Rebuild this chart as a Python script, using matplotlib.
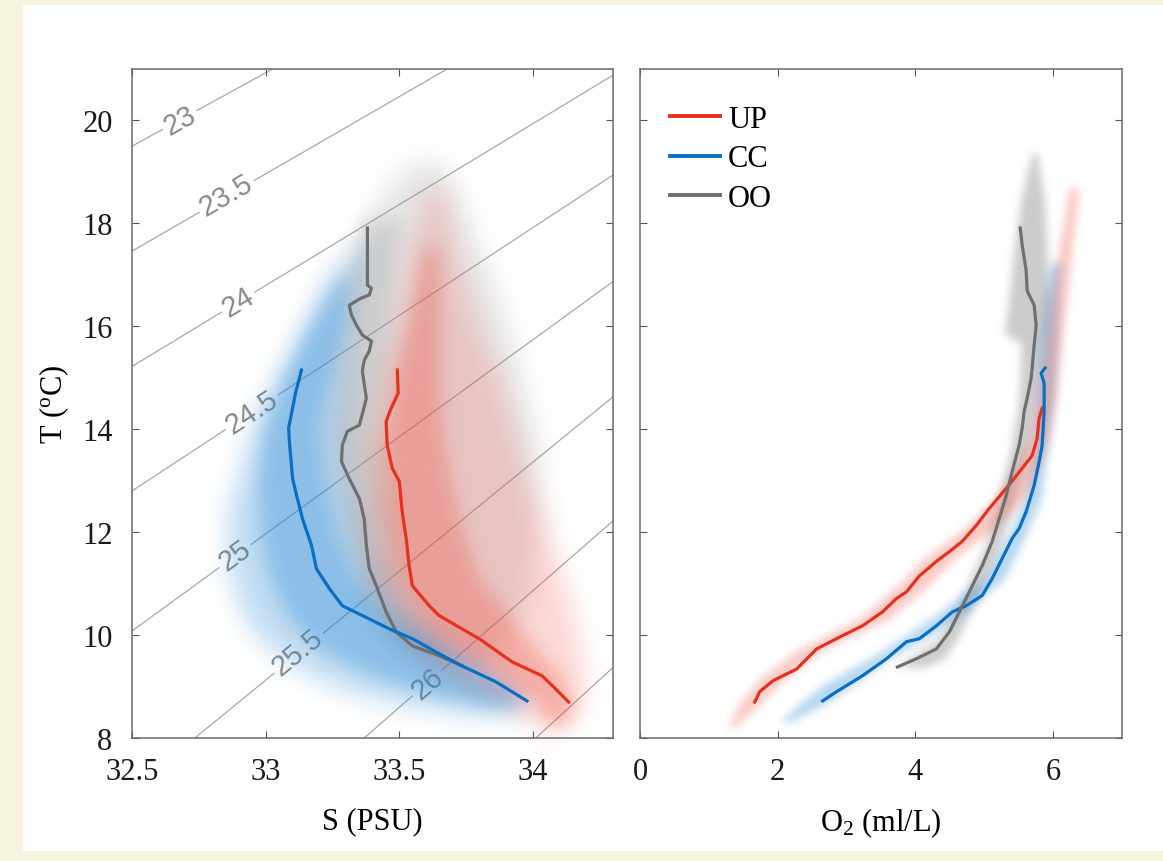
import numpy as np
import matplotlib
matplotlib.use("Agg")
import matplotlib.pyplot as plt
from matplotlib.patches import Rectangle
from matplotlib.lines import Line2D

# isopycnals (sigma-t), end points
iso_s0 = [32.5, 32.5, 32.5, 32.5, 32.5, 32.735, 33.369, 34.011]
iso_t0 = [19.50, 17.46, 15.22, 12.80, 10.08, 8.0, 8.0, 8.0]
iso_s1 = [33.026, 33.679, 34.3, 34.3, 34.3, 34.3, 34.3, 34.3]
iso_t1 = [21.0, 21.0, 20.88, 18.94, 16.87, 14.63, 12.22, 9.37]
iso_txt = ["23", "23.5", "24", "24.5", "25", "25.5", "26", None]
lab_s = [32.679, 32.851, 32.896, 32.948, 32.884, 33.119, 33.604]
lab_t = [20.0, 18.55, 16.48, 14.33, 11.55, 9.68, 9.07]

# mean profiles, T-S
up_s = [33.493, 33.496, 33.470, 33.451, 33.455, 33.474, 33.500, 33.511, 33.526, 33.537,
        33.549, 33.612, 33.649, 33.735, 33.799, 33.922, 34.034, 34.086, 34.134]
up_t = [15.15, 14.70, 14.41, 14.15, 13.69, 13.24, 12.99, 12.40, 11.88, 11.35,
        10.96, 10.57, 10.38, 10.12, 9.93, 9.48, 9.21, 8.95, 8.70]
cc_s = [33.134, 33.127, 33.112, 33.101, 33.086, 33.090, 33.101, 33.116, 33.138, 33.172,
        33.190, 33.239, 33.287, 33.362, 33.463, 33.549, 33.638, 33.735, 33.862, 33.978]
cc_t = [15.15, 15.00, 14.71, 14.41, 14.02, 13.69, 13.04, 12.71, 12.26, 11.74,
        11.29, 10.90, 10.57, 10.38, 10.12, 9.93, 9.67, 9.40, 9.09, 8.72]
oo_s = [33.381, 33.381, 33.396, 33.388, 33.358, 33.313, 33.321, 33.340, 33.362, 33.396,
        33.388, 33.369, 33.362, 33.377, 33.351, 33.306, 33.287, 33.284, 33.313, 33.351,
        33.369, 33.377, 33.388, 33.414, 33.451, 33.489, 33.549, 33.649, 33.735]
oo_t = [17.91, 16.80, 16.74, 16.61, 16.55, 16.41, 16.22, 16.02, 15.83, 15.71,
        15.52, 15.34, 15.13, 14.60, 14.08, 13.96, 13.69, 13.37, 13.04, 12.65,
        12.26, 11.74, 11.29, 10.96, 10.45, 10.06, 9.79, 9.60, 9.40]

# mean profiles, T-O2
up_o = [1.667, 1.739, 1.928, 2.275, 2.565, 2.942, 3.232, 3.522, 3.725, 3.870, 4.058,
        4.304, 4.493, 4.681, 4.884, 5.072, 5.319, 5.551, 5.696, 5.768, 5.797, 5.841]
up_to = [8.70, 8.90, 9.11, 9.34, 9.73, 9.99, 10.18, 10.45, 10.71, 10.84, 11.15,
         11.43, 11.62, 11.82, 12.13, 12.46, 12.85, 13.24, 13.49, 13.82, 14.21, 14.41]
cc_o = [2.652, 2.855, 3.232, 3.580, 3.870, 4.058, 4.304, 4.536, 4.739, 4.971, 5.116,
        5.261, 5.406, 5.507, 5.609, 5.725, 5.797, 5.841, 5.870, 5.870, 5.826, 5.884]
cc_to = [8.72, 8.90, 9.21, 9.54, 9.87, 9.93, 10.18, 10.45, 10.57, 10.77, 11.10,
         11.49, 11.88, 12.07, 12.40, 12.91, 13.37, 13.69, 14.35, 14.89, 15.09, 15.19]
oo_o = [5.522, 5.551, 5.609, 5.623, 5.725, 5.754, 5.725, 5.696, 5.681, 5.623, 5.580,
        5.551, 5.507, 5.406, 5.319, 5.217, 5.116, 4.971, 4.783, 4.638, 4.493, 4.304,
        4.014, 3.739]
oo_to = [17.91, 17.58, 17.08, 16.69, 16.41, 16.02, 15.63, 15.19, 14.99, 14.60, 14.35,
         14.02, 13.69, 13.18, 12.71, 12.26, 11.82, 11.35, 10.84, 10.45, 10.06, 9.73,
         9.54, 9.38]

# spread of the profiles (outer / inner envelopes), T-S
cc_env_t = [17.62, 17.13, 16.35, 15.38, 14.35, 13.37, 12.40, 11.43, 10.57, 9.93, 9.44, 8.95, 8.66, 8.47]
cc_env_l = [33.369, 33.257, 33.172, 33.082, 32.970, 32.914, 32.86, 32.86, 32.90, 32.978, 33.090, 33.276, 33.500, 33.761]
cc_env_r = [33.396, 33.358, 33.321, 33.306, 33.295, 33.299, 33.343, 33.396, 33.500, 33.687, 33.836, 33.948, 33.978, 33.929]
cc_core_t = [16.94, 15.96, 14.99, 14.02, 13.04, 12.07, 11.10, 10.32, 9.73, 9.25, 8.86, 8.60]
cc_core_l = [33.269, 33.157, 33.060, 32.996, 32.970, 32.978, 33.015, 33.090, 33.201, 33.388, 33.612, 33.836]
cc_core_r = [33.313, 33.295, 33.239, 33.201, 33.220, 33.257, 33.332, 33.463, 33.649, 33.836, 33.948, 33.966]

up_env_t = [18.69, 17.52, 16.16, 14.99, 13.63, 12.26, 11.10, 10.12, 9.34, 8.76, 8.37, 8.08]
up_env_l = [33.612, 33.537, 33.493, 33.444, 33.388, 33.381, 33.407, 33.500, 33.649, 33.873, 33.985, 34.041]
up_env_r = [33.668, 33.705, 33.780, 33.873, 33.948, 34.041, 34.116, 34.164, 34.190, 34.190, 34.153, 34.078]
up_core_t = [17.52, 16.16, 14.99, 13.63, 12.26, 11.10, 10.12, 9.34, 8.76, 8.27]
up_core_l = [33.593, 33.537, 33.481, 33.444, 33.463, 33.500, 33.612, 33.836, 34.004, 34.060]
up_core_r = [33.649, 33.649, 33.649, 33.668, 33.724, 33.799, 33.948, 34.078, 34.153, 34.127]

oo_env_t = [19.18, 18.50, 17.52, 16.55, 15.19, 13.63, 12.07, 10.71, 9.93, 9.34]
oo_env_l = [33.537, 33.425, 33.351, 33.295, 33.239, 33.220, 33.257, 33.351, 33.463, 33.649]
oo_env_r = [33.668, 33.724, 33.799, 33.873, 33.948, 34.022, 34.022, 33.985, 33.910, 33.799]
oo_core_t = [18.11, 16.94, 15.58, 14.02, 12.65, 11.29, 10.32, 9.64]
oo_core_l = [33.369, 33.313, 33.295, 33.257, 33.295, 33.351, 33.425, 33.575]
oo_core_r = [33.500, 33.481, 33.463, 33.425, 33.463, 33.500, 33.575, 33.724]

# spread of the profiles, T-O2
up_band_t = [8.21, 8.66, 9.15, 9.73, 10.32, 10.90, 11.49, 12.07, 12.65, 13.24, 13.82, 14.60, 15.58, 16.55, 17.52, 18.69]
up_band_l = [1.275, 1.449, 1.739, 2.319, 3.188, 3.696, 4.130, 4.710, 5.145, 5.435, 5.652, 5.768, 5.870, 5.971, 6.087, 6.232]
up_band_r = [1.377, 1.739, 2.101, 2.681, 3.623, 4.130, 4.565, 5.145, 5.580, 5.797, 5.942, 6.043, 6.116, 6.203, 6.275, 6.377]
cc_band_t = [8.31, 8.66, 9.05, 9.54, 10.03, 10.51, 11.10, 11.88, 12.65, 13.63, 14.60, 15.58, 16.55, 17.23]
cc_band_l = [2.029, 2.319, 2.681, 3.333, 3.913, 4.420, 5.0, 5.333, 5.580, 5.725, 5.768, 5.797, 5.870, 5.971]
cc_band_r = [2.174, 2.681, 3.116, 3.623, 4.275, 4.783, 5.290, 5.580, 5.826, 5.913, 6.014, 6.058, 6.087, 6.116]
oo_band_t = [19.37, 18.50, 17.52, 16.55, 15.87, 15.67, 14.60, 13.63, 12.65, 11.68, 10.71, 9.93, 9.54, 9.38]
oo_band_l = [5.696, 5.536, 5.435, 5.362, 5.290, 5.536, 5.507, 5.391, 5.217, 5.0, 4.667, 4.348, 3.913, 3.739]
oo_band_r = [5.768, 5.870, 5.913, 5.942, 5.913, 5.870, 5.768, 5.652, 5.435, 5.217, 4.899, 4.609, 4.420, 4.130]

RED, BLUE, GREY = "#e5321f", "#0a6fc0", "#6f6f6f"
RED_F, BLUE_F, GREY_F = "#f04a3a", "#2a8ad6", "#9a9a9a"


def soft(sigma):
    # gaussian blur for the shaded clouds (premultiplied so edges dont darken)
    def filt(img, dpi):
        pad = int(3 * sigma)
        a = np.pad(img, ((pad, pad), (pad, pad), (0, 0)))
        k = np.exp(-0.5 * (np.arange(-pad, pad + 1) / sigma) ** 2)
        k /= k.sum()
        al = a[..., 3:].copy()
        pm = np.concatenate([a[..., :3] * al, al], axis=2)
        for axis in (0, 1):
            out = np.zeros_like(pm)
            for i, w in enumerate(k):
                out += w * np.roll(pm, i - pad, axis=axis)
            pm = out
        res = np.empty_like(pm)
        res[..., 3] = pm[..., 3]
        res[..., :3] = pm[..., :3] / np.maximum(pm[..., 3:], 1e-6)
        return np.clip(res, 0, 1), -pad, -pad
    return filt


plt.rcParams["font.family"] = ["Liberation Serif", "DejaVu Serif"]
plt.rcParams["mathtext.fontset"] = "custom"
plt.rcParams["mathtext.rm"] = "Liberation Serif"
plt.rcParams["mathtext.it"] = "Liberation Serif:italic"

fig = plt.figure(figsize=(11.63, 8.62), dpi=100, facecolor="#f6f4de")
fig.patches.append(Rectangle((23 / 1163, 10 / 862), 1, 1 - 16 / 862, transform=fig.transFigure,
                             fc="white", ec="none", zorder=-10))

ax1 = fig.add_axes([0.1135, 0.1427, 0.4136, 0.7761])
ax2 = fig.add_axes([0.5503, 0.1427, 0.4144, 0.7761])

# isopycnals
for i in range(len(iso_s0)):
    ax1.plot([iso_s0[i], iso_s1[i]], [iso_t0[i], iso_t1[i]], color="#a8a8a8", lw=0.9, zorder=1)
    if iso_txt[i] is not None:
        ang = np.degrees(np.arctan2(iso_t1[i] - iso_t0[i], iso_s1[i] - iso_s0[i]))
        ax1.text(lab_s[i], lab_t[i], iso_txt[i], family=["Liberation Sans", "DejaVu Sans"], fontsize=21,
                 color="#8a8a8a", ha="center", va="center", rotation=ang, transform_rotates_text=True,
                 rotation_mode="anchor", zorder=1.5,
                 bbox=dict(fc="white", ec="none", pad=2))

# clouds, T-S
clouds = [(oo_env_t, oo_env_l, oo_env_r, GREY_F, 0.25, 9), (oo_core_t, oo_core_l, oo_core_r, GREY_F, 0.3, 6),
          (cc_env_t, cc_env_l, cc_env_r, BLUE_F, 0.3, 9), (cc_core_t, cc_core_l, cc_core_r, BLUE_F, 0.35, 6),
          (up_env_t, up_env_l, up_env_r, RED_F, 0.22, 9), (up_core_t, up_core_l, up_core_r, RED_F, 0.3, 6)]
for t, l, r, c, a, s in clouds:
    p = ax1.fill_betweenx(t, l, r, color=c, alpha=a, lw=0, zorder=2)
    p.set_agg_filter(soft(s))

ax1.plot(oo_s, oo_t, color=GREY, lw=2.3, zorder=3)
ax1.plot(up_s, up_t, color=RED, lw=2.3, zorder=3)
ax1.plot(cc_s, cc_t, color=BLUE, lw=2.3, zorder=3)

# clouds, T-O2
bands = [(oo_band_t, oo_band_l, oo_band_r, GREY_F, 0.5), (cc_band_t, cc_band_l, cc_band_r, BLUE_F, 0.35),
         (up_band_t, up_band_l, up_band_r, RED_F, 0.3)]
for t, l, r, c, a in bands:
    p = ax2.fill_betweenx(t, l, r, color=c, alpha=a, lw=0, zorder=2)
    p.set_agg_filter(soft(3))

ax2.plot(up_o, up_to, color=RED, lw=2.3, zorder=3)
ax2.plot(cc_o, cc_to, color=BLUE, lw=2.3, zorder=3)
ax2.plot(oo_o, oo_to, color=GREY, lw=2.3, zorder=3)

ax1.set_xlim(32.5, 34.3)
ax2.set_xlim(0, 7)
for ax in (ax1, ax2):
    ax.set_ylim(8, 21)
    ax.set_yticks(range(8, 21, 2))
    ax.tick_params(direction="in", length=5, width=0.8, color="#555555", labelsize=22,
                   top=True, right=True, pad=14, labelcolor="#1a1a1a")
    for sp in ax.spines.values():
        sp.set_color("#6a6a6a")
        sp.set_linewidth(1.1)
ax1.set_xticks([32.5, 33, 33.5, 34])
ax1.set_xticklabels(["32.5", "33", "33.5", "34"])
ax2.set_xticks([0, 2, 4, 6])
ax2.set_yticklabels([])

ax1.set_xlabel("S (PSU)", fontsize=22, labelpad=14)
ax1.set_ylabel("T ($^{\\rm o}$C)", fontsize=22, labelpad=8)
ax2.set_xlabel("O$_2$ (ml/L)", fontsize=22, labelpad=14)

handles = [Line2D([], [], color=RED, lw=2.8), Line2D([], [], color=BLUE, lw=2.8),
           Line2D([], [], color=GREY, lw=2.8)]
ax2.legend(handles, ["UP", "CC", "OO"], loc="upper left", bbox_to_anchor=(0.037, 0.965),
           borderaxespad=0, frameon=False, fontsize=22, handlelength=1.65, handletextpad=0.25,
           labelspacing=0.35)

fig.savefig("out.png", dpi=100, facecolor=fig.get_facecolor())
